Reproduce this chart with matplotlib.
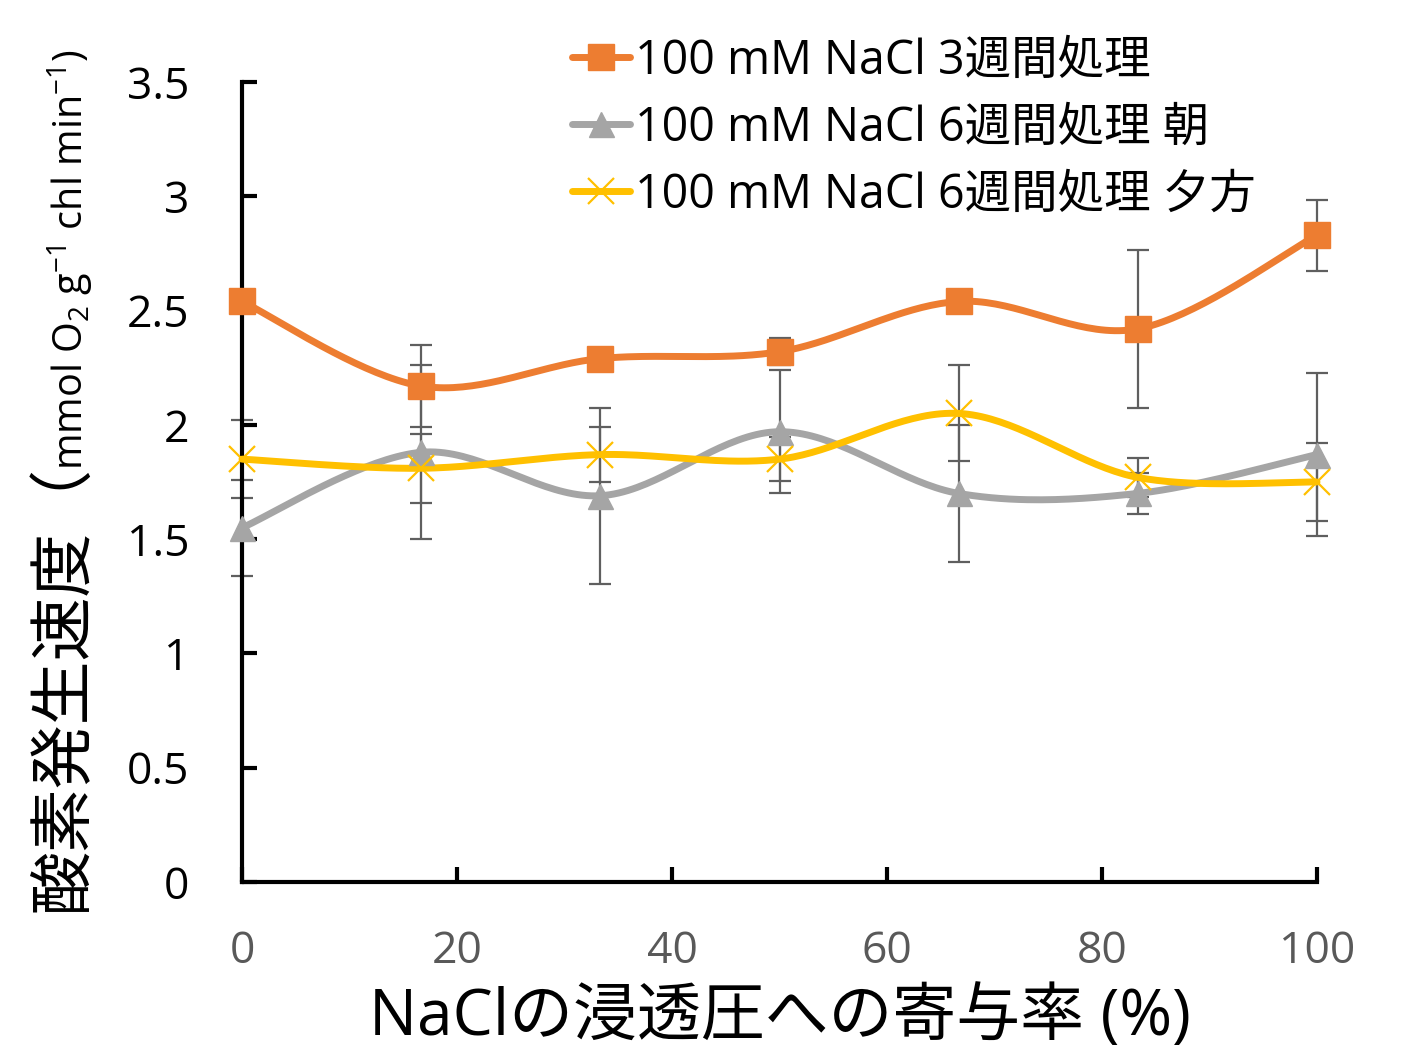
import numpy as np
import matplotlib
matplotlib.use("Agg")
import matplotlib.pyplot as plt
from matplotlib.ticker import FuncFormatter

plt.rcParams['font.family'] = ['Open Sans', 'Noto Sans CJK JP', 'DejaVu Sans']
plt.rcParams['mathtext.fontset'] = 'custom'
plt.rcParams['mathtext.rm'] = 'Open Sans'
plt.rcParams['mathtext.it'] = 'Open Sans'

# NaCl contribution to osmotic pressure (%)
nacl_share = [0, 16.67, 33.33, 50, 66.67, 83.33, 100]

# oxygen evolution rate and error for each treatment
week3 = [2.54, 2.17, 2.29, 2.32, 2.54, 2.42, 2.83]
week3_err = [0.04, 0.18, 0.04, 0.06, 0.04, 0.345, 0.155]
week6_am = [1.55, 1.88, 1.69, 1.97, 1.70, 1.70, 1.87]
week6_am_err = [0.21, 0.38, 0.385, 0.27, 0.30, 0.088, 0.355]
week6_pm = [1.85, 1.81, 1.87, 1.85, 2.05, 1.77, 1.75]
week6_pm_err = [0.17, 0.15, 0.12, 0.095, 0.21, 0.085, 0.17]

labels = ['100 mM NaCl 3週間処理', '100 mM NaCl 6週間処理 朝', '100 mM NaCl 6週間処理 夕方']
colors = ['#ED7D31', '#A5A5A5', '#FFC000']
markers = ['s', '^', 'x']
msizes = [19, 18, 19]


def smooth(xs, ys, n=40):
    # Catmull-Rom style bezier through the points (like a spreadsheet smoothed line)
    p = np.column_stack([xs, ys]).astype(float)
    p = np.vstack([p[0], p, p[-1]])
    out = []
    t = np.linspace(0, 1, n)[:, None]
    for i in range(1, len(p) - 2):
        p0, p1, p2, p3 = p[i - 1], p[i], p[i + 1], p[i + 2]
        c1 = p1 + (p2 - p0) / 6
        c2 = p2 - (p3 - p1) / 6
        seg = ((1 - t) ** 3) * p1 + 3 * ((1 - t) ** 2) * t * c1 + 3 * (1 - t) * t ** 2 * c2 + t ** 3 * p2
        out.append(seg if i == 1 else seg[1:])
    out = np.vstack(out)
    return out[:, 0], out[:, 1]


fig = plt.figure(figsize=(14.18, 10.52), dpi=100)
ax = fig.add_axes([242 / 1418, 170 / 1052, 1075 / 1418, 800 / 1052])

series = [(week3, week3_err), (week6_am, week6_am_err), (week6_pm, week6_pm_err)]
for vals, err in series:
    ax.errorbar(nacl_share, vals, yerr=err, fmt='none', ecolor='#5f5f5f',
                elinewidth=1.6, capsize=8, capthick=1.6, zorder=2, clip_on=False)

handles = []
for (vals, err), lab, col, mk, ms in zip(series, labels, colors, markers, msizes):
    sx, sy = smooth(nacl_share, vals)
    ax.plot(sx, sy, color=col, lw=5, zorder=3, clip_on=False, solid_capstyle='round')
    if mk == 'x':
        ax.plot(nacl_share, vals, ls='none', marker=mk, ms=ms, mec=col, mew=1.6,
                zorder=4, clip_on=False)
    else:
        ax.plot(nacl_share, vals, ls='none', marker=mk, ms=ms, mfc=col, mec=col,
                zorder=4, clip_on=False)
    h, = ax.plot([], [], color=col, lw=5, marker=mk, ms=ms, mfc=col, mec=col,
                 mew=1.6 if mk == 'x' else 1, solid_capstyle='round')
    handles.append(h)

ax.set_xlim(0, 100)
ax.set_ylim(0, 3.5)
ax.set_xticks([0, 20, 40, 60, 80, 100])
ax.set_yticks(np.arange(0, 3.51, 0.5))
ax.yaxis.set_major_formatter(FuncFormatter(lambda v, p: f'{v:g}'))

for s in ['top', 'right']:
    ax.spines[s].set_visible(False)
for s in ['left', 'bottom']:
    ax.spines[s].set_linewidth(3)
    ax.spines[s].set_capstyle('projecting')

ax.tick_params(axis='y', direction='in', length=11, width=3, pad=38,
               labelsize=32, labelcolor='black')
ax.tick_params(axis='x', direction='in', length=11, width=3, pad=34,
               labelsize=32, labelcolor='#595959')

ax.set_xlabel('NaClの浸透圧への寄与率 (%)', fontsize=46, labelpad=9)

# y axis title: main words with the bracket, then the units
fig.text(64 / 1418, (1052 - 912) / 1052, '酸素発生速度（', rotation=90, fontsize=46,
         ha='center', va='bottom')
fig.text(70 / 1418, (1052 - 470) / 1052,
         'mmol O$_2$ g$^{-1}$ chl min$^{-1}$)', rotation=90, fontsize=28.5,
         ha='center', va='bottom')

ax.legend(handles, labels, loc='upper left', bbox_to_anchor=(572 / 1418, 1 - 37 / 1052),
          bbox_transform=fig.transFigure, frameon=False, fontsize=33.5,
          handlelength=1.25, handletextpad=0.1, labelspacing=0.42, borderaxespad=0,
          borderpad=0)

fig.savefig('out.png', dpi=100)
